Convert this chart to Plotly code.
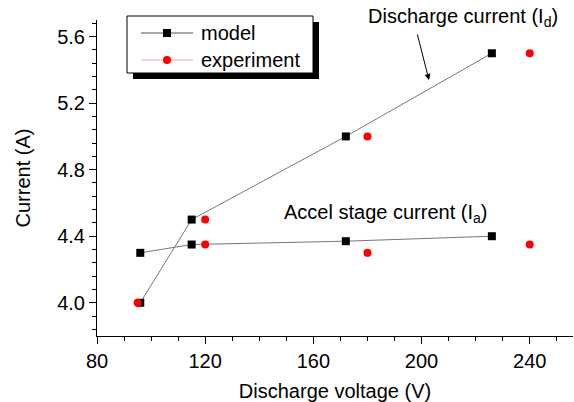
import plotly.graph_objects as go

# Model data
model_id_v = [96, 115, 172, 226]
model_id_i = [4.0, 4.5, 5.0, 5.5]
model_ia_v = [96, 115, 172, 226]
model_ia_i = [4.30, 4.35, 4.37, 4.40]

# Experiment data
exp_id_v = [95, 120, 180, 240]
exp_id_i = [4.0, 4.5, 5.0, 5.5]
exp_ia_v = [120, 180, 240]
exp_ia_i = [4.35, 4.30, 4.35]

x_ticks = [80, 120, 160, 200, 240]
y_ticks = [4.0, 4.4, 4.8, 5.2, 5.6]
series_names = ["model", "experiment"]

FONT = "Liberation Sans, Arial, sans-serif"
FS = 20
W, H = 574, 402
L, R, T, B = 97, 1, 20, 66
pw, ph = W - L - R, H - T - B

def px2paper(px, py):
    return (px - L) / pw, (H - B - py) / ph

fig = go.Figure()

line_style = dict(color="#777777", width=1)
sq = dict(symbol="square", size=8, color="black")
circ = dict(symbol="circle", size=8, color="red")

fig.add_trace(go.Scatter(x=model_id_v, y=model_id_i, mode="lines+markers", name=series_names[0],
                         line=line_style, marker=sq, showlegend=False))
fig.add_trace(go.Scatter(x=model_ia_v, y=model_ia_i, mode="lines+markers", name=series_names[0],
                         line=line_style, marker=sq, showlegend=False))
fig.add_trace(go.Scatter(x=exp_id_v, y=exp_id_i, mode="markers", name=series_names[1],
                         marker=circ, showlegend=False))
fig.add_trace(go.Scatter(x=exp_ia_v, y=exp_ia_i, mode="markers", name=series_names[1],
                         marker=circ, showlegend=False))

# ---- hand-drawn legend box (Origin style with drop shadow) ----
def rect_px(xa, ya, xb, yb, **kw):
    p0 = px2paper(xa, yb)
    p1 = px2paper(xb, ya)
    fig.add_shape(type="rect", xref="paper", yref="paper",
                  x0=p0[0], y0=p0[1], x1=p1[0], y1=p1[1], layer="below", **kw)

def line_px(xa, ya, xb, yb, color):
    p0 = px2paper(xa, ya)
    p1 = px2paper(xb, yb)
    fig.add_shape(type="line", xref="paper", yref="paper",
                  x0=p0[0], y0=p0[1], x1=p1[0], y1=p1[1], layer="below",
                  line=dict(color=color, width=1))

rect_px(133, 22, 319, 79, fillcolor="black", line=dict(width=0))
rect_px(127, 16, 313, 73, fillcolor="white", line=dict(color="black", width=1))

for i, (nm, lc) in enumerate(zip(series_names, ["#555555", "#f0a8a8"])):
    yc = 33 + i * 27
    line_px(141, yc, 193, yc, lc)
    if i == 0:
        rect_px(163, yc - 4, 171, yc + 4, fillcolor="black", line=dict(width=0))
    else:
        a = px2paper(163, yc + 4)
        b = px2paper(171, yc - 4)
        fig.add_shape(type="circle", xref="paper", yref="paper", x0=a[0], y0=a[1],
                      x1=b[0], y1=b[1], fillcolor="red", line=dict(width=0), layer="below")
    tpx, tpy = px2paper(199, yc)
    fig.add_annotation(xref="paper", yref="paper", x=tpx, y=tpy, xanchor="left", yanchor="middle",
                       text=nm, showarrow=False, font=dict(size=FS, color="black", family=FONT))

# annotations
ax_h, ay_h = px2paper(429, 80)
fig.add_annotation(xref="paper", yref="paper", x=ax_h, y=ay_h, ax=-12, ay=-47,
                   text="", showarrow=True,
                   arrowhead=2, arrowsize=1.2, arrowwidth=1, arrowcolor="black")
tx, ty = px2paper(463, 18)
fig.add_annotation(xref="paper", yref="paper", x=tx, y=ty, xanchor="center", yanchor="middle",
                   text="Discharge current (I<sub>d</sub>)",
                   showarrow=False, font=dict(size=FS, color="black", family=FONT))
tx2, ty2 = px2paper(385, 214)
fig.add_annotation(xref="paper", yref="paper", x=tx2, y=ty2, xanchor="center", yanchor="middle",
                   text="Accel stage current (I<sub>a</sub>)",
                   showarrow=False, font=dict(size=FS, color="black", family=FONT))

fig.update_layout(
    width=W, height=H,
    margin=dict(l=L, r=R, t=T, b=B),
    plot_bgcolor="rgba(0,0,0,0)", paper_bgcolor="white",
    font=dict(family=FONT, size=FS, color="black"),
    showlegend=False,
    xaxis=dict(range=[80, 256], tickvals=x_ticks, ticks="outside", ticklen=7,
               tickwidth=1, tickcolor="black", showline=True, linecolor="black",
               linewidth=1, showgrid=False, zeroline=False,
               minor=dict(dtick=10, tick0=80, ticks="outside", ticklen=4, tickcolor="black", showgrid=False),
               title=dict(text="Discharge voltage (V)", font=dict(size=FS), standoff=12),
               tickfont=dict(size=FS)),
    yaxis=dict(range=[3.8, 5.7], tickvals=y_ticks, tickformat=".1f", ticks="outside", ticklen=7,
               tickwidth=1, tickcolor="black", showline=True, linecolor="black",
               linewidth=1, showgrid=False, zeroline=False,
               minor=dict(dtick=0.08, tick0=3.84, ticks="outside", ticklen=4, tickcolor="black", showgrid=False),
               title=dict(text="Current (A)", font=dict(size=FS), standoff=21),
               tickfont=dict(size=FS)),
)

fig.write_html("out.html")
